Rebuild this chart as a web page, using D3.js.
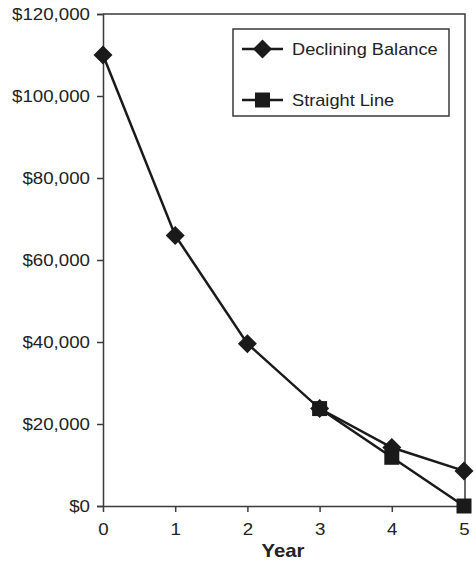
<!DOCTYPE html>
<html>
<head>
<meta charset="utf-8">
<script src="https://cdn.jsdelivr.net/npm/d3@7/dist/d3.min.js"></script>
<style>
  html, body { margin: 0; padding: 0; background: #fff; }
  svg { display: block; font-family: "Liberation Sans", Arial, Helvetica, sans-serif; }
</style>
</head>
<body>
<svg id="chart" width="476" height="561"></svg>
<script>
// Book value of an asset by year
const years = [0, 1, 2, 3, 4, 5];
const decliningBalance = [110000, 66000, 39600, 23760, 14256, 8554];
const straightLine = [null, null, null, 23760, 11880, 0];
const yTicks = [0, 20000, 40000, 60000, 80000, 100000, 120000];
const seriesNames = ["Declining Balance", "Straight Line"];
const xTitle = "Year";

const svg = d3.select("#chart");
const plotLeft = 103, plotRight = 464, plotTop = 14, plotBottom = 506;
const ink = "#1a1a1a", axisInk = "#3a3a3a", textInk = "#222";

const x = d3.scalePoint().domain(years).range([plotLeft, plotRight]);
const y = d3.scaleLinear().domain([0, 120000]).range([plotBottom, plotTop]);

// widen glyphs slightly for a broader sans look
function widen(sel, k) {
  sel.each(function () {
    const w = this.getComputedTextLength();
    d3.select(this).attr("textLength", w * k).attr("lengthAdjust", "spacingAndGlyphs");
  });
}

// plot frame (top and right edges)
svg.append("path")
  .attr("d", `M${plotLeft},${plotTop}H${plotRight + 1}V${plotBottom}`)
  .attr("fill", "none").attr("stroke", axisInk).attr("stroke-width", 1.5);

// y axis
const yAxis = svg.append("g").attr("transform", `translate(${plotLeft},0)`)
  .call(d3.axisLeft(y).tickValues(yTicks).tickSize(6).tickPadding(7)
    .tickFormat(d => "$" + d3.format(",")(d)));
yAxis.select(".domain").attr("stroke", axisInk).attr("stroke-width", 1.5);
yAxis.selectAll(".tick line").attr("stroke", axisInk).attr("stroke-width", 1.5);
yAxis.selectAll("text").attr("font-size", 17).attr("fill", textInk).call(widen, 1.1);

// x axis
const xAxis = svg.append("g").attr("transform", `translate(0,${plotBottom})`)
  .call(d3.axisBottom(x).tickSize(6).tickPadding(11).tickSizeOuter(0));
xAxis.select(".domain").attr("stroke", axisInk).attr("stroke-width", 1.5);
xAxis.selectAll(".tick line").attr("stroke", axisInk).attr("stroke-width", 1.5);
xAxis.selectAll("text").attr("font-size", 17).attr("fill", textInk).call(widen, 1.1);

svg.append("text")
  .attr("x", 283).attr("y", 557)
  .attr("text-anchor", "middle").attr("font-size", 18.5).attr("font-weight", "bold")
  .attr("fill", textInk).text(xTitle).call(widen, 1.1);

function diamondPath(cx, cy, r) {
  return `M${cx},${cy - r}L${cx + r},${cy}L${cx},${cy + r}L${cx - r},${cy}Z`;
}
function squarePath(cx, cy, s) {
  return `M${cx - s},${cy - s}H${cx + s}V${cy + s}H${cx - s}Z`;
}

const line = d3.line()
  .defined(d => d.v !== null)
  .x(d => x(d.year)).y(d => y(d.v));

const dbData = years.map((yr, i) => ({ year: yr, v: decliningBalance[i] }));
const slData = years.map((yr, i) => ({ year: yr, v: straightLine[i] }));

// Straight line series
svg.append("path").datum(slData).attr("d", line)
  .attr("fill", "none").attr("stroke", ink).attr("stroke-width", 2.5);
svg.selectAll(".sq").data(slData.filter(d => d.v !== null)).join("path")
  .attr("class", "sq")
  .attr("d", d => squarePath(x(d.year), y(d.v), 7.5))
  .attr("fill", ink);

// Declining balance series
svg.append("path").datum(dbData).attr("d", line)
  .attr("fill", "none").attr("stroke", ink).attr("stroke-width", 2.5);
svg.selectAll(".dm").data(dbData).join("path")
  .attr("class", "dm")
  .attr("d", d => diamondPath(x(d.year), y(d.v), 9.5))
  .attr("fill", ink);

// legend
const lg = svg.append("g");
lg.append("rect").attr("x", 233).attr("y", 29).attr("width", 216).attr("height", 87)
  .attr("fill", "#fff").attr("stroke", axisInk).attr("stroke-width", 1.5);
const entries = [
  { name: seriesNames[0], cy: 49, marker: (cx, cy) => diamondPath(cx, cy, 9.5) },
  { name: seriesNames[1], cy: 100, marker: (cx, cy) => squarePath(cx, cy, 7.5) }
];
entries.forEach(e => {
  lg.append("line").attr("x1", 242).attr("x2", 283).attr("y1", e.cy).attr("y2", e.cy)
    .attr("stroke", ink).attr("stroke-width", 2.5);
  lg.append("path").attr("d", e.marker(262.5, e.cy)).attr("fill", ink);
  lg.append("text").attr("x", 292).attr("y", e.cy + 6).attr("font-size", 17)
    .attr("fill", textInk).text(e.name).call(widen, 1.07);
});
</script>
</body>
</html>
